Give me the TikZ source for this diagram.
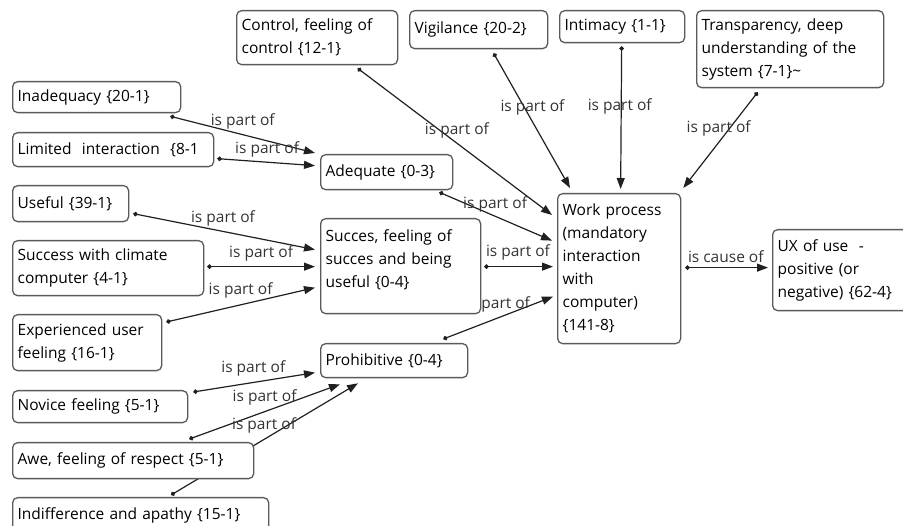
\documentclass[tikz,border=0pt]{standalone}
\usepackage{fontspec}
\setmainfont{Open Sans}
\usetikzlibrary{arrows.meta,backgrounds}
\definecolor{boxgray}{HTML}{5A5A5A}
\definecolor{linegray}{HTML}{202020}
\definecolor{labelgray}{HTML}{333333}
\begin{document}
\begin{tikzpicture}[x=1pt,y=-1pt,line join=round,line cap=round]
	\tikzset{concept/.style 2 args={draw=boxgray, line width=1.3pt, rounded corners=5pt, fill=white, anchor=north west,
			align=left, inner xsep=5pt, inner ysep=3pt, minimum width=#1pt, minimum height=#2pt, text width=#1pt-10pt,
			font=\fontsize{15.5}{23}\selectfont},
		rel/.style={draw=linegray, line width=1.2pt, {Circle[length=4.5pt]}-{Triangle[length=11pt,width=8pt]}},
		lbl/.style={text=labelgray, inner sep=0pt, font=\fontsize{15.5}{17}\selectfont}}
	\useasboundingbox (0,0) rectangle (903,526);
	\node[concept={161}{54}] (ctrl) at (236,10) {Control, feeling of\\control \{12-1\}};
	\node[concept={138}{38}] (vig) at (409,10) {Vigilance \{20-2\}};
	\node[concept={125}{32}] (intim) at (559,10) {Intimacy \{1-1\}};
	\node[concept={187}{77}] (transp) at (696,10) {Transparency, deep\\understanding of the\\system \{7-1\}\textasciitilde};
	\node[concept={168}{31}] (inad) at (12,81) {Inadequacy \{20-1\}};
	\node[concept={201}{34}] (limit) at (12,132) {Limited\ \ interaction\ \ \{8-1};
	\node[concept={132}{35}] (adeq) at (320,154) {Adequate \{0-3\}};
	\node[concept={116}{36}] (useful) at (12,185) {Useful \{39-1\}};
	\node[concept={191}{55}] (climate) at (12,240) {Success with climate\\computer \{4-1\}};
	\node[concept={160}{95}] (succ) at (320,218) {Succes, feeling of\\succes and being\\useful \{0-4\}\\[-8pt]\mbox{}};
	\node[concept={149}{56}] (exper) at (12,314) {Experienced user\\feeling \{16-1\}};
	\node[concept={147}{34}] (prohib) at (320,343) {Prohibitive \{0-4\}};
	\node[concept={175}{32}] (novice) at (12,390) {Novice feeling \{5-1\}};
	\node[concept={241}{36}] (awe) at (12,442) {Awe, feeling of respect \{5-1\}};
	\node[concept={256}{36}] (indiff) at (12,497) {Indifference and apathy \{15-1\}};
	\node[concept={123}{150}] (work) at (557,193) {Work~process\\(mandatory\\interaction\\with\\computer)\\\{141-8\}};
	\node[concept={140}{81}] (ux) at (772,229) {UX of use\ \ -\\positive (or\\negative) \{62-4\}};
	\begin{pgfonlayer}{background}
		\draw[rel] ([xshift=-11pt,yshift=-3pt]inad.south east) -- node[lbl, pos=.48, xshift=3pt, yshift=12pt] {is part of} ([xshift=-5pt,yshift=1pt]adeq.north west);
		\draw[rel] ([xshift=3pt,yshift=-9pt]limit.east) -- node[lbl, pos=.5, xshift=1pt, yshift=12.5pt] {is part of} ([xshift=-5pt,yshift=6.5pt]adeq.west);
		\draw[rel] ([xshift=40.5pt,yshift=-3pt]ctrl.south) -- node[lbl, pos=.48, xshift=6pt, yshift=8pt] {is part of} ([xshift=-5pt,yshift=-22pt]work.north west);
		\draw[rel] ([xshift=-14pt,yshift=-2pt]adeq.south east) -- node[lbl, pos=.46, xshift=4pt, yshift=10pt] {is part of} ([xshift=-5pt,yshift=28pt]work.west);
		\draw[rel] ([xshift=15pt,yshift=-4pt]vig.south) -- node[lbl, pos=.43, xshift=6pt, yshift=3.5pt] {is part of} ([xshift=13pt,yshift=5pt]work.north west);
		\draw[rel] ([xshift=-.5pt,yshift=-3pt]intim.south) -- node[lbl, pos=.42, xshift=-1.5pt] {is part of} ([xshift=1.5pt,yshift=4pt]work.north);
		\draw[rel] ([xshift=-32.5pt,yshift=-4pt]transp.south) -- node[lbl, pos=.43, xshift=-7pt, yshift=5.5pt] {is part of} ([xshift=2pt,yshift=5pt]work.north east);
		\draw[rel] ([xshift=4pt,yshift=-10pt]useful.east) -- node[lbl, pos=.48, xshift=2.5pt, yshift=12.5pt] {is part of} ([xshift=-5pt,yshift=16.5pt]succ.west);
		\draw[rel] ([xshift=3pt,yshift=1.5pt]climate.east) -- node[lbl, pos=.5, yshift=13pt] {is part of} ([xshift=-5pt,yshift=-.5pt]succ.west);
		\draw[rel] ([xshift=4pt,yshift=-8pt]exper.north east) -- node[lbl, pos=.52, xshift=-3pt, yshift=14pt] {is part of} ([xshift=-5pt,yshift=-21.5pt]succ.west);
		\draw[rel] ([xshift=3pt,yshift=-.5pt]succ.east) -- node[lbl, pos=.49, yshift=14pt] {is part of} ([xshift=-4pt,yshift=2pt]work.west);
		\draw[rel] ([xshift=-25pt,yshift=4pt]prohib.north east) -- node[lbl, pos=.54, xshift=-4.5pt, yshift=11.7pt] {is part of} ([xshift=-4pt,yshift=-28pt]work.west);
		\draw[rel] ([xshift=4pt,yshift=1pt]work.east) -- node[lbl, pos=.49, yshift=11pt] {is cause of} ([xshift=-4pt,yshift=2.5pt]ux.west);
		\draw[rel] ([xshift=5pt,yshift=-2pt]novice.north east) -- node[lbl, pos=.51, xshift=-2pt, yshift=13.7pt] {is part of} ([xshift=-5pt,yshift=-12pt]prohib.west);
		\draw[rel] ([xshift=-65pt,yshift=3pt]awe.north east) -- node[lbl, pos=.53, xshift=-4.5pt, yshift=12.3pt] {is part of} ([xshift=20pt,yshift=-6pt]prohib.south west);
		\draw[rel] ([xshift=159pt,yshift=2pt]indiff.north west) -- node[lbl, pos=.53, xshift=-6pt, yshift=10pt] {is part of} ([xshift=38pt,yshift=-5pt]prohib.south west);
	\end{pgfonlayer}
\end{tikzpicture}
\end{document}
